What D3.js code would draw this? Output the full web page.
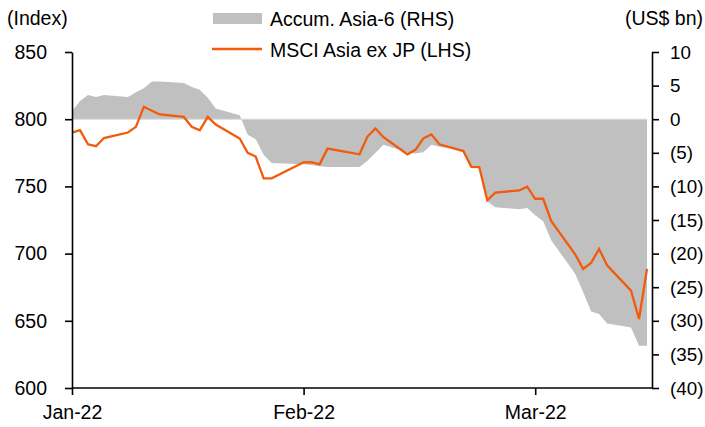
<!DOCTYPE html>
<html>
<head>
<meta charset="utf-8">
<script src="https://cdn.jsdelivr.net/npm/d3@7"></script>
<style>
  html, body { margin: 0; padding: 0; background: #fff; }
  svg { display: block; font-family: "Liberation Sans", Arial, sans-serif; }
</style>
</head>
<body>
<svg id="chart" width="705" height="427"></svg>
<script>
// ---- data ----
const dates = [
  "2022-01-03","2022-01-04","2022-01-05","2022-01-06","2022-01-07",
  "2022-01-10","2022-01-11","2022-01-12","2022-01-13","2022-01-14",
  "2022-01-17","2022-01-18","2022-01-19","2022-01-20","2022-01-21",
  "2022-01-24","2022-01-25","2022-01-26","2022-01-27","2022-01-28",
  "2022-02-01","2022-02-02","2022-02-03","2022-02-04",
  "2022-02-08","2022-02-09","2022-02-10","2022-02-11",
  "2022-02-14","2022-02-15","2022-02-16","2022-02-17","2022-02-18",
  "2022-02-21","2022-02-22","2022-02-23","2022-02-24","2022-02-25",
  "2022-02-28","2022-03-01","2022-03-02","2022-03-03","2022-03-04",
  "2022-03-07","2022-03-08","2022-03-09","2022-03-10","2022-03-11",
  "2022-03-14","2022-03-15","2022-03-16"
];
const msciAsiaExJp = [
  790.0, 791.8, 781.3, 779.9, 786.0,
  790.1, 794.3, 809.2, 806.3, 803.5,
  801.7, 794.3, 791.8, 801.7, 796.0,
  785.6, 775.0, 772.2, 756.0, 756.0,
  767.9, 768.1, 766.4, 778.1,
  773.9, 787.1, 793.1, 786.6,
  773.9, 777.2, 785.8, 788.7, 781.3,
  776.3, 764.6, 764.4, 739.6, 745.4,
  747.0, 749.8, 740.8, 740.8, 724.3,
  699.5, 688.6, 693.1, 703.5, 691.3,
  672.4, 651.3, 688.6
];
const accumAsia6 = [
  1.2, 2.7, 3.6, 3.3, 3.6,
  3.3, 4.0, 4.6, 5.6, 5.6,
  5.4, 4.8, 4.4, 3.2, 1.6,
  0.6, -2.3, -3.0, -5.3, -6.5,
  -6.7, -6.8, -7.0, -7.1,
  -7.1, -6.2, -5.0, -3.8,
  -4.9, -5.1, -4.9, -3.8, -4.1,
  -4.7, -7.1, -7.3, -12.2, -13.1,
  -13.4, -13.2, -14.3, -15.2, -18.0,
  -23.0, -25.7, -28.6, -29.0, -30.4,
  -31.0, -33.7, -33.7
];
const tickDates = ["2022-01-03", "2022-02-01", "2022-03-02"];
const tickLabels = ["Jan-22", "Feb-22", "Mar-22"];
const leftTicks = [600, 650, 700, 750, 800, 850];
const rightTicks = [-40, -35, -30, -25, -20, -15, -10, -5, 0, 5, 10];
const seriesNames = ["Accum. Asia-6 (RHS)", "MSCI Asia ex JP (LHS)"];

// ---- setup ----
const parse = d3.utcParse("%Y-%m-%d");
const pts = dates.map((d, i) => ({ date: parse(d), idx: msciAsiaExJp[i], flow: accumAsia6[i] }));

const AXL = 72, AXR = 652, TOP = 52, BOT = 388;
const FONT = 19.5;
const AREA = "#c0c0c0", LINE = "#f25a0c";

const svg = d3.select("#chart");

const x = d3.scaleUtc().domain([parse(dates[0]), parse(dates[dates.length - 1])]).range([AXL, 647]);
const yL = d3.scaleLinear().domain([600, 850]).range([BOT, TOP]);
const yR = d3.scaleLinear().domain([-40, 10]).range([BOT, TOP]);

// area
const area = d3.area().x(d => x(d.date)).y0(yR(0)).y1(d => yR(d.flow));
svg.append("path").datum(pts).attr("d", area).attr("fill", AREA);
// faint zero edge of the area
svg.append("line")
  .attr("x1", x(pts[0].date)).attr("x2", x(pts[pts.length - 1].date))
  .attr("y1", yR(0)).attr("y2", yR(0))
  .attr("stroke", "#d9d9d9").attr("stroke-width", 1);

// line
const line = d3.line().x(d => x(d.date)).y(d => yL(d.idx));
svg.append("path").datum(pts).attr("d", line)
  .attr("fill", "none").attr("stroke", LINE).attr("stroke-width", 2.3)
  .attr("stroke-linejoin", "miter");

// axes
function styleAxis(g, size) {
  g.select(".domain").attr("stroke", "#000").attr("stroke-width", 1.6);
  g.selectAll(".tick line").attr("stroke", "#000").attr("stroke-width", 1.6);
  g.selectAll("text").attr("font-size", size).attr("fill", "#000")
    .attr("font-family", "'Liberation Sans', Arial, sans-serif");
}

const gL = svg.append("g").attr("transform", `translate(${AXL},0)`)
  .call(d3.axisLeft(yL).tickValues(leftTicks).tickSize(7).tickPadding(18).tickSizeOuter(0)
    .tickFormat(d3.format("d")));
styleAxis(gL, FONT);

const gR = svg.append("g").attr("transform", `translate(${AXR},0)`)
  .call(d3.axisRight(yR).tickValues(rightTicks).tickSize(7).tickPadding(11).tickSizeOuter(0)
    .tickFormat(v => v < 0 ? `(${Math.abs(v)})` : `${v}`));
styleAxis(gR, 18.8);

const gB = svg.append("g").attr("transform", `translate(0,${BOT})`)
  .call(d3.axisBottom(x).tickValues(tickDates.map(parse)).tickSize(7).tickPadding(10).tickSizeOuter(0)
    .tickFormat((d, i) => tickLabels[i]));
gB.select(".domain").attr("d", `M${AXL},0H${AXR}`);
styleAxis(gB, FONT);

// axis titles
svg.append("text").attr("x", 7).attr("y", 25).attr("font-size", FONT).text("(Index)");
svg.append("text").attr("x", 703).attr("y", 25).attr("font-size", FONT)
  .attr("text-anchor", "end").text("(US$ bn)");

// legend
const lg = svg.append("g");
lg.append("rect").attr("x", 213).attr("y", 13).attr("width", 49).attr("height", 11).attr("fill", AREA);
lg.append("text").attr("x", 270).attr("y", 26).attr("font-size", FONT).text(seriesNames[0]);
lg.append("line").attr("x1", 212).attr("x2", 262).attr("y1", 49).attr("y2", 49)
  .attr("stroke", LINE).attr("stroke-width", 2.3);
lg.append("text").attr("x", 270).attr("y", 57).attr("font-size", FONT).text(seriesNames[1]);
</script>
</body>
</html>
